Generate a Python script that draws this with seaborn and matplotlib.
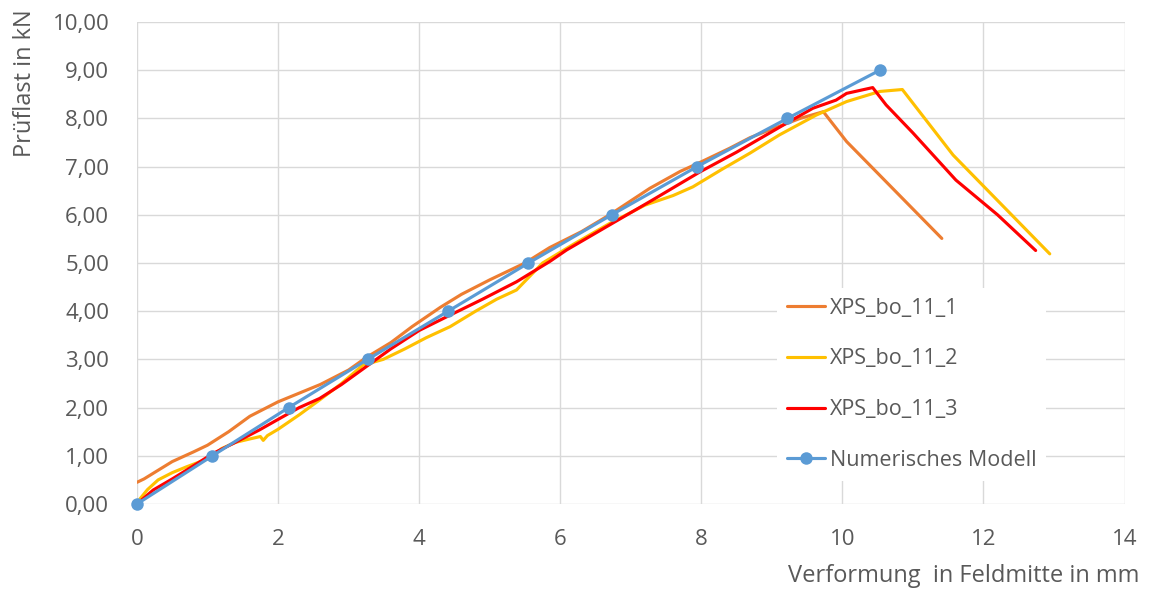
import seaborn as sns
import pandas as pd
import matplotlib.pyplot as plt
import matplotlib.ticker as mtick

# Data
x_bo_1 = [0, 0.1, 0.3, 0.5, 0.8, 1.0, 1.3, 1.6, 2.0, 2.3, 2.6, 3.0, 3.25, 3.6, 3.9, 4.3,
          4.6, 5.0, 5.5, 5.85, 6.3, 6.7, 7.27, 7.7, 8.0, 8.4, 8.69, 9.0, 9.4, 9.73, 10.06, 11.41]
y_bo_1 = [0.45, 0.52, 0.70, 0.88, 1.08, 1.22, 1.50, 1.82, 2.12, 2.30, 2.48, 2.78, 3.04, 3.35, 3.68, 4.08,
          4.35, 4.65, 5.00, 5.32, 5.65, 6.00, 6.55, 6.90, 7.10, 7.38, 7.60, 7.78, 8.00, 8.14, 7.52, 5.51]

x_bo_2 = [0, 0.05, 0.15, 0.3, 0.5, 0.7, 0.9, 1.03, 1.2, 1.4, 1.6, 1.75, 1.79, 1.85, 2.0, 2.12,
          2.3, 2.59, 2.9, 3.2, 3.49, 3.8, 4.1, 4.44, 4.8, 5.1, 5.38, 5.75, 6.2, 6.7, 7.2, 7.6,
          7.88, 8.3, 8.69, 9.11, 9.63, 10.06, 10.53, 10.85, 11.57, 12.94]
y_bo_2 = [0.0, 0.12, 0.30, 0.50, 0.65, 0.77, 0.88, 0.95, 1.15, 1.28, 1.35, 1.40, 1.32, 1.42, 1.55, 1.67,
          1.85, 2.16, 2.50, 2.88, 3.00, 3.22, 3.45, 3.68, 4.00, 4.25, 4.44, 5.00, 5.40, 5.82, 6.20, 6.40,
          6.58, 6.95, 7.28, 7.66, 8.07, 8.35, 8.56, 8.60, 7.24, 5.19]

x_bo_3 = [0, 0.23, 0.5, 0.7, 1.08, 1.41, 1.74, 2.03, 2.3, 2.59, 2.9, 3.25, 3.6, 4.0, 4.44, 4.9,
          5.38, 5.85, 6.09, 6.7, 7.3, 7.98, 8.5, 9.16, 9.58, 9.91, 10.06, 10.43, 10.62, 11.0, 11.61, 12.2, 12.74]
y_bo_3 = [0.0, 0.29, 0.52, 0.70, 1.05, 1.29, 1.54, 1.78, 2.00, 2.19, 2.48, 2.85, 3.22, 3.60, 3.92, 4.25,
          4.61, 5.03, 5.27, 5.79, 6.30, 6.89, 7.30, 7.86, 8.21, 8.38, 8.52, 8.64, 8.28, 7.70, 6.72, 6.00, 5.26]

x_model = [0, 1.07, 2.15, 3.27, 4.41, 5.55, 6.73, 7.94, 9.22, 10.53]
y_model = [0, 1, 2, 3, 4, 5, 6, 7, 8, 9]

series = [
    ("XPS_bo_11_1", x_bo_1, y_bo_1, "#ED7D31"),
    ("XPS_bo_11_2", x_bo_2, y_bo_2, "#FFC000"),
    ("XPS_bo_11_3", x_bo_3, y_bo_3, "#FF0000"),
]

sns.set_theme(style="white")
plt.rcParams['font.family'] = ['Open Sans', 'DejaVu Sans']
text_col = "#595959"

fig = plt.figure(figsize=(11.51, 5.99), dpi=100)
ax = fig.add_axes([0.119, 0.1586, 0.858, 0.8046])

for name, xs, ys, col in series:
    df = pd.DataFrame({"x": xs, "y": ys})
    sns.lineplot(data=df, x="x", y="y", sort=False, color=col, linewidth=2.25,
                 label=name, ax=ax)

df_m = pd.DataFrame({"x": x_model, "y": y_model})
sns.lineplot(data=df_m, x="x", y="y", sort=False, color="#5B9BD5", linewidth=2.25,
             marker="o", markersize=9, markeredgewidth=0, label="Numerisches Modell",
             clip_on=False, zorder=5, ax=ax)

ax.set_xlim(0, 14)
ax.set_ylim(0, 10)
ax.set_xticks(range(0, 15, 2))
ax.set_yticks(range(0, 11))
ax.yaxis.set_major_formatter(mtick.FuncFormatter(lambda v, _: f"{v:.2f}".replace(".", ",")))
ax.grid(True, color="#D9D9D9", linewidth=1)
for s in ax.spines.values():
    s.set_visible(False)
ax.tick_params(axis="both", length=0, labelsize=16, colors=text_col)
ax.tick_params(axis="x", pad=18)
ax.tick_params(axis="y", pad=20)
ax.set_xlabel("")
ax.set_ylabel("")

fig.text(0.99, 0.028, "Verformung  in Feldmitte in mm", ha="right", va="baseline",
         fontsize=17, color=text_col)
fig.text(0.022, 0.985, "Prüflast in kN", ha="center", va="top", rotation=90,
         fontsize=17, color=text_col)

leg = ax.legend(loc="upper left", bbox_to_anchor=(0.666, 0.537), bbox_transform=fig.transFigure,
                fontsize=15.5, frameon=True, framealpha=1, facecolor="white", edgecolor="none",
                handlelength=1.75, handletextpad=0.25, labelspacing=1.38, borderpad=0.45,
                fancybox=False)
for t in leg.get_texts():
    t.set_color(text_col)

fig.savefig("out.png", dpi=100)
